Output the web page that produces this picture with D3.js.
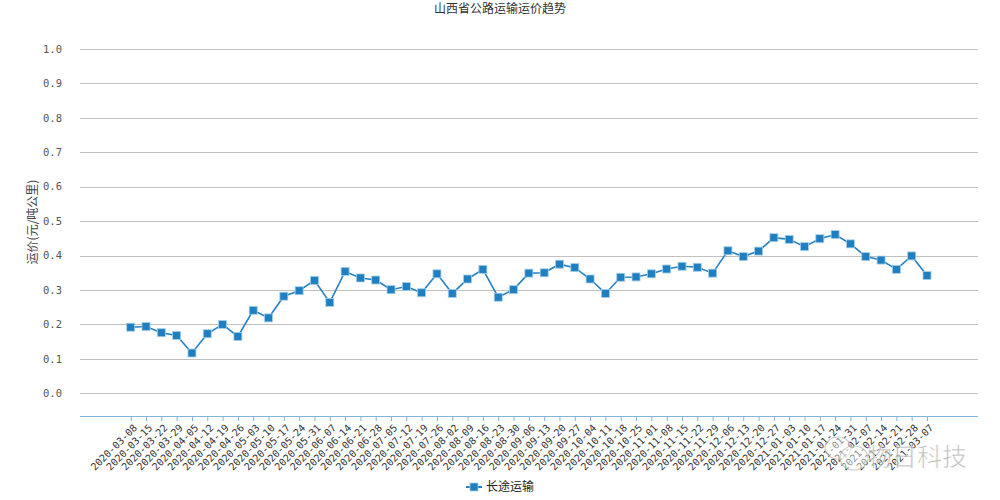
<!DOCTYPE html>
<html><head><meta charset="utf-8">
<script src="https://cdn.jsdelivr.net/npm/d3@7"></script>
<style>body{margin:0;background:#fff}svg{display:block}</style>
</head><body><div id="chart"></div>
<script>
const title = "山西省公路运输运价趋势";
const yTitle = "运价(元/吨公里)";
const seriesName = "长途运输";
const dates = ["2020-03-08","2020-03-15","2020-03-22","2020-03-29","2020-04-05","2020-04-12","2020-04-19","2020-04-26","2020-05-03","2020-05-10","2020-05-17","2020-05-24","2020-05-31","2020-06-07","2020-06-14","2020-06-21","2020-06-28","2020-07-05","2020-07-12","2020-07-19","2020-07-26","2020-08-02","2020-08-09","2020-08-16","2020-08-23","2020-08-30","2020-09-06","2020-09-13","2020-09-20","2020-09-27","2020-10-04","2020-10-11","2020-10-18","2020-10-25","2020-11-01","2020-11-08","2020-11-15","2020-11-22","2020-11-29","2020-12-06","2020-12-13","2020-12-20","2020-12-27","2021-01-03","2021-01-10","2021-01-17","2021-01-24","2021-01-31","2021-02-07","2021-02-14","2021-02-21","2021-02-28","2021-03-07"];
const values = [0.192,0.194,0.176,0.168,0.117,0.173,0.200,0.165,0.241,0.219,0.282,0.298,0.328,0.264,0.354,0.335,0.329,0.301,0.310,0.292,0.347,0.290,0.332,0.360,0.279,0.301,0.349,0.350,0.375,0.365,0.332,0.290,0.337,0.338,0.347,0.361,0.369,0.366,0.349,0.414,0.397,0.413,0.452,0.447,0.426,0.449,0.461,0.434,0.397,0.387,0.360,0.399,0.342];
const yTicks = [0,0.1,0.2,0.3,0.4,0.5,0.6,0.7,0.8,0.9,1.0];

const W = 1000, H = 500;
const svg = d3.select("#chart").append("svg").attr("width", W).attr("height", H);
const left = 80, right = 978, axisY = 416;

const x = d3.scalePoint().domain(dates).range([130.7, 927]);
const y = d3.scaleLinear().domain([0, 1]).range([393.3, 49]);

// title
svg.append("text").attr("x", 500).attr("y", 13).attr("text-anchor", "middle")
  .attr("font-family", "Noto Sans CJK SC").attr("font-size", 12).attr("fill", "#333").text(title);

// gridlines
svg.append("g").selectAll("line").data(yTicks).join("line")
  .attr("x1", left).attr("x2", right)
  .attr("y1", d => Math.round(y(d)) + 0.5).attr("y2", d => Math.round(y(d)) + 0.5)
  .attr("stroke", "#c0c0c0").attr("stroke-width", 1);

// y tick labels
svg.append("g").selectAll("text").data(yTicks).join("text")
  .attr("x", 62).attr("y", d => y(d)).attr("dy", "0.35em").attr("text-anchor", "end")
  .attr("font-family", "DejaVu Sans Mono").attr("font-size", 10.5).attr("fill", "#555")
  .text(d => d3.format(".1f")(d));

// y title
svg.append("text").attr("transform", "translate(37,222) rotate(-90)").attr("text-anchor", "middle")
  .attr("font-family", "Noto Sans CJK SC").attr("font-size", 12).attr("fill", "#444").text(yTitle);

// x axis
const xAxis = d3.axisBottom(x).tickSize(5).tickFormat(d => d);
const gx = svg.append("g").attr("transform", `translate(0,${axisY})`).call(xAxis);
gx.select(".domain").attr("d", `M${left},0.5H${right}`).attr("stroke", "#7cb5d8");
gx.selectAll(".tick line").attr("stroke", "#7cb5d8").attr("y2", 5);
gx.selectAll(".tick text")
  .attr("font-family", "DejaVu Sans Mono").attr("font-size", 10).attr("fill", "#333")
  .attr("text-anchor", "end").attr("y", 0).attr("dy", "0.35em")
  .attr("transform", "translate(4,10) rotate(-45)");

// line
const line = d3.line().x((d, i) => x(dates[i])).y(d => y(d));
svg.append("path").datum(values).attr("d", line).attr("fill", "none")
  .attr("stroke", "#2581c2").attr("stroke-width", 1.6);

// markers
svg.append("g").selectAll("rect").data(values).join("rect")
  .attr("x", (d, i) => x(dates[i]) - 4).attr("y", d => y(d) - 4)
  .attr("width", 8).attr("height", 8)
  .attr("fill", "#1f7fc0").attr("stroke", "#a6cfe9").attr("stroke-width", 0.8);

// legend
const lg = svg.append("g").attr("transform", "translate(474,487)");
lg.append("line").attr("x1", -8).attr("x2", 8).attr("stroke", "#2581c2").attr("stroke-width", 2);
lg.append("rect").attr("x", -4).attr("y", -4).attr("width", 8).attr("height", 8)
  .attr("fill", "#1f7fc0").attr("stroke", "#a6cfe9").attr("stroke-width", 0.8);
lg.append("text").attr("x", 12).attr("y", 0).attr("dy", "0.35em")
  .attr("font-family", "Noto Sans CJK SC").attr("font-size", 12).attr("fill", "#222").text(seriesName);

// watermark
const wm = svg.append("g").attr("opacity", 0.75);
wm.append("ellipse").attr("cx", 838).attr("cy", 448).attr("rx", 13).attr("ry", 11)
  .attr("fill", "#fff").attr("fill-opacity", 0.6).attr("stroke", "#bbb").attr("stroke-width", 1.2);
wm.append("ellipse").attr("cx", 854).attr("cy", 458).attr("rx", 14).attr("ry", 12)
  .attr("fill", "#fff").attr("fill-opacity", 0.6).attr("stroke", "#bbb").attr("stroke-width", 1.2);
wm.append("text").attr("x", 867).attr("y", 466)
  .attr("font-family", "Noto Sans CJK SC").attr("font-size", 25).attr("fill", "#aaa")
  .attr("stroke", "#fff").attr("stroke-width", 0.6).text("物日科技");
</script></body></html>
